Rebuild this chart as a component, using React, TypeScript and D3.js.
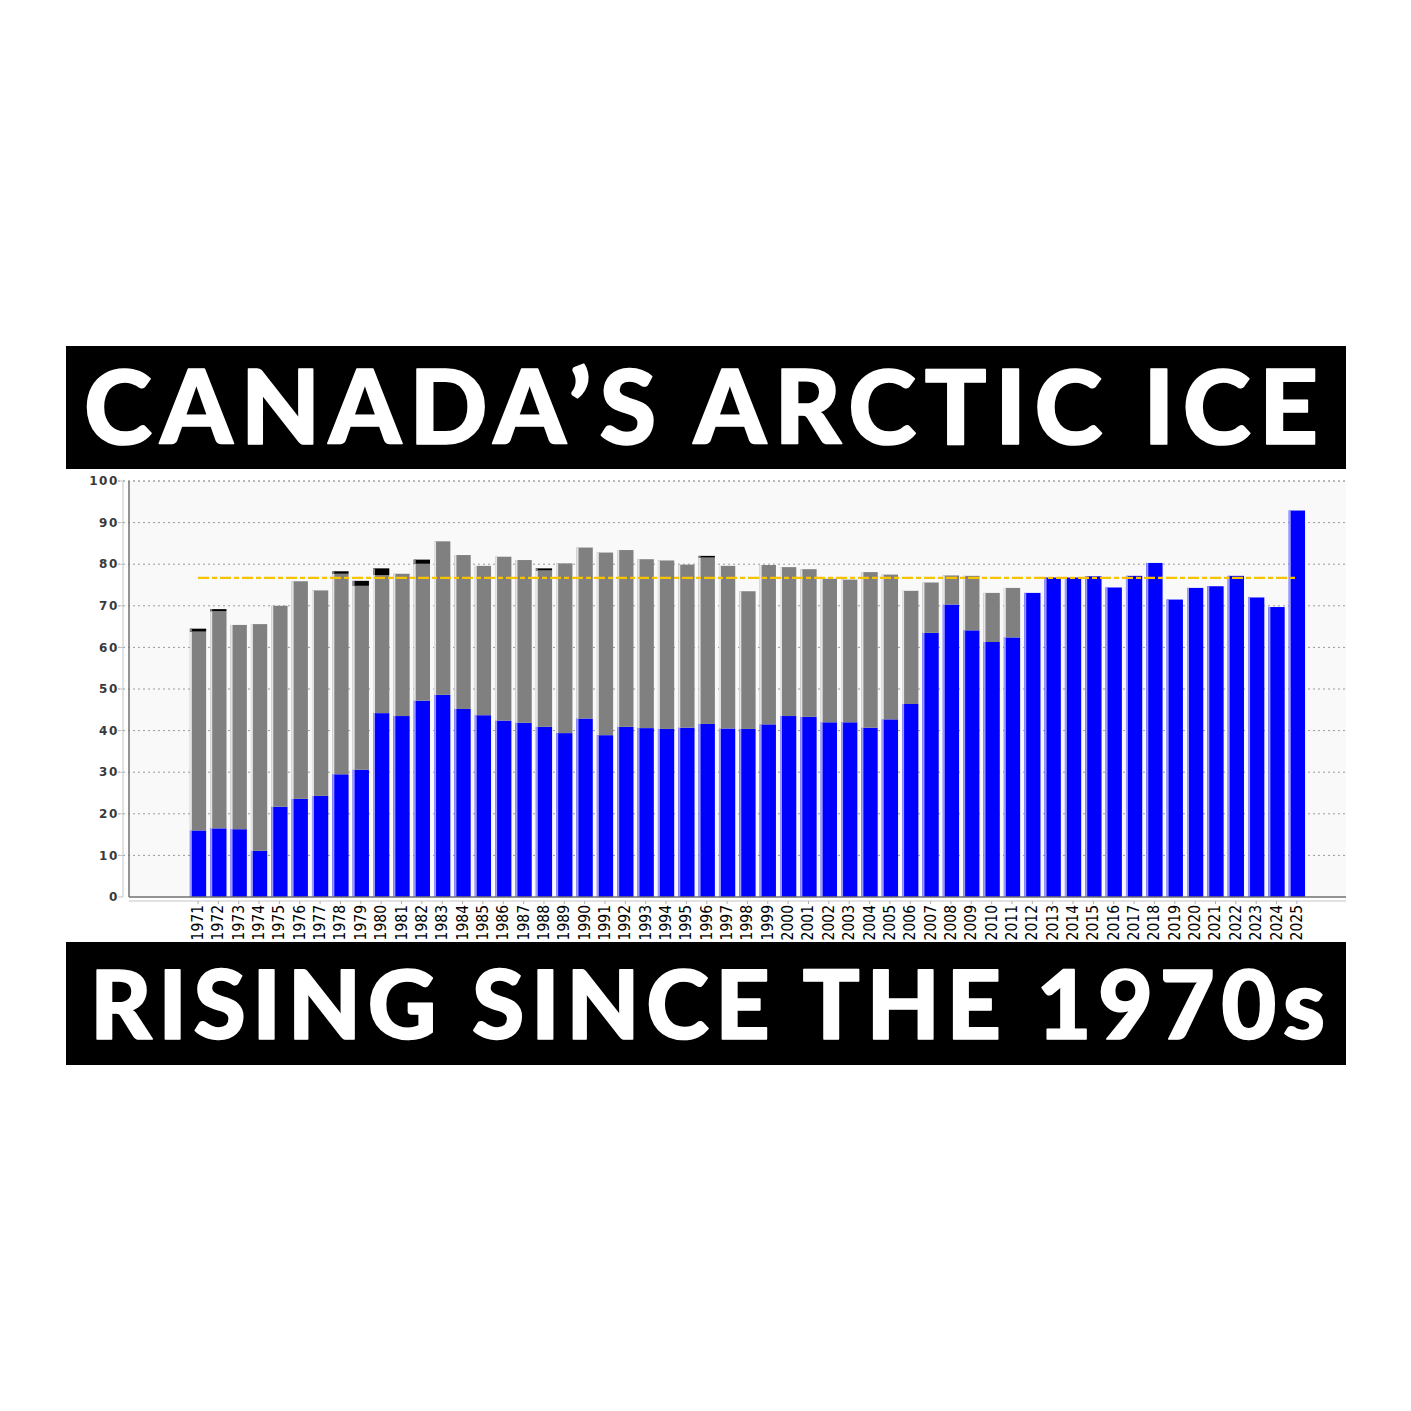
import React, { useEffect, useRef } from "react";
import * as d3 from "d3";

// years on the x axis
const years = d3.range(1971, 2026).map(String);

// blue segment (bottom of each bar)
const blueVals = [
  16.0, 16.5, 16.3, 11.1, 21.7, 23.6, 24.3, 29.5, 30.6, 44.2,
  43.5, 47.2, 48.6, 45.2, 43.7, 42.4, 41.9, 40.9, 39.4, 42.9,
  38.9, 40.9, 40.6, 40.4, 40.7, 41.6, 40.5, 40.4, 41.5, 43.5,
  43.3, 42.0, 42.0, 40.7, 42.7, 46.4, 63.5, 70.3, 64.1, 61.3,
  62.4, 73.1, 76.8, 76.8, 77.1, 74.4, 77.2, 80.3, 71.5, 74.3,
  74.7, 77.2, 72.0, 69.7, 92.9,
];

// gray segment stacked on the blue
const grayVals = [
  47.8, 52.2, 49.1, 54.5, 48.3, 52.3, 49.4, 48.2, 44.2, 33.2,
  34.2, 32.9, 36.9, 37.0, 35.9, 39.4, 39.1, 37.6, 40.8, 41.1,
  43.9, 42.5, 40.6, 40.5, 39.2, 40.0, 39.1, 33.1, 38.3, 35.8,
  35.5, 34.5, 34.3, 37.4, 34.8, 27.2, 12.1, 7.0, 13.1, 11.8,
  11.9, 0, 0, 0, 0, 0, 0, 0, 0, 0,
  0, 0, 0, 0, 0,
];

// thin black cap on top of some early bars
const blackVals = [
  0.7, 0.5, 0, 0, 0, 0, 0, 0.6, 1.2, 1.6,
  0, 1.0, 0, 0, 0, 0, 0, 0.5, 0, 0,
  0, 0, 0, 0, 0, 0.4, 0, 0, 0, 0,
  0, 0, 0, 0, 0, 0, 0, 0, 0, 0,
  0, 0, 0, 0, 0, 0, 0, 0, 0, 0,
  0, 0, 0, 0, 0,
];

const medianValue = 76.7;
const yTicks = [0, 10, 20, 30, 40, 50, 60, 70, 80, 90, 100];

const titleTop = "CANADA\u2019S ARCTIC ICE";
const titleBottom = "RISING SINCE THE 1970s";

const App = () => {
  const svgRef = useRef(null);

  useEffect(() => {
    const width = 1411,
      height = 1411;
    const plotLeft = 129,
      plotRight = 1346,
      plotTop = 481,
      plotBottom = 897;

    const svg = d3.select(svgRef.current);
    svg.selectAll("*").remove();

    svg.append("rect")
      .attr("width", width)
      .attr("height", height)
      .attr("fill", "#ffffff");

    // title banners //
    const banners = [
      { text: titleTop, y: 346, h: 123, base: 444, size: 103, x0: 84, len: 1234 },
      { text: titleBottom, y: 942, h: 123, base: 1039, size: 95, x0: 90, len: 1235 },
    ];
    banners.forEach(b => {
      svg.append("rect")
        .attr("x", 66)
        .attr("y", b.y)
        .attr("width", 1280)
        .attr("height", b.h)
        .attr("fill", "#000000");
      svg.append("text")
        .attr("x", b.x0)
        .attr("y", b.base)
        .attr("fill", "#ffffff")
        .attr("stroke", "#ffffff")
        .attr("stroke-width", 1.6)
        .attr("stroke-linejoin", "round")
        .attr("font-family", "Lato, 'Open Sans', sans-serif")
        .attr("font-weight", 900)
        .attr("font-size", b.size)
        .attr("textLength", b.len)
        .attr("lengthAdjust", "spacing")
        .text(b.text);
    });

    // scales //
    const x = d3.scaleBand()
      .domain(years)
      .range([185.8, 1309.1])
      .padding(0.2);

    const y = d3.scaleLinear()
      .domain([0, 100])
      .range([plotBottom, plotTop]);

    // plot background //
    svg.append("rect")
      .attr("x", plotLeft)
      .attr("y", plotTop)
      .attr("width", plotRight - plotLeft)
      .attr("height", plotBottom - plotTop)
      .attr("fill", "#f9f9f9");

    // dotted gridlines //
    svg.append("g")
      .selectAll("line")
      .data(yTicks.filter(t => t > 0))
      .join("line")
      .attr("x1", 118)
      .attr("x2", plotRight)
      .attr("y1", d => y(d))
      .attr("y2", d => y(d))
      .attr("stroke", d => (d === 100 ? "#777" : "#9a9a9a"))
      .attr("stroke-width", 1)
      .attr("stroke-dasharray", "2,3");

    // stacked bars //
    const table = years.map((yr, i) => ({
      year: yr,
      blue: blueVals[i],
      gray: grayVals[i],
      black: blackVals[i],
    }));
    const series = d3.stack().keys(["blue", "gray", "black"])(table);
    const fills = { blue: "#0000ff", gray: "#808080", black: "#000000" };
    const edges = { blue: "#9a9aff", gray: "#e4e4e4", black: "#888888" };

    series.forEach(s => {
      const g = svg.append("g");
      const segs = s.filter(d => d[1] - d[0] > 0);
      g.selectAll("rect.seg")
        .data(segs)
        .join("rect")
        .attr("class", "seg")
        .attr("x", d => x(d.data.year))
        .attr("y", d => y(d[1]))
        .attr("width", x.bandwidth())
        .attr("height", d => y(d[0]) - y(d[1]))
        .attr("fill", fills[s.key]);
      // light left edge highlight
      g.selectAll("rect.edge")
        .data(segs)
        .join("rect")
        .attr("class", "edge")
        .attr("x", d => x(d.data.year))
        .attr("y", d => y(d[1]))
        .attr("width", 2)
        .attr("height", d => y(d[0]) - y(d[1]))
        .attr("fill", edges[s.key]);
    });

    // median line (dash-dot yellow) //
    svg.append("line")
      .attr("x1", x(years[0]) + x.bandwidth() / 2)
      .attr("x2", x(years[years.length - 1]) + x.bandwidth() / 2)
      .attr("y1", y(medianValue))
      .attr("y2", y(medianValue))
      .attr("stroke", "#f7c200")
      .attr("stroke-width", 2.2)
      .attr("stroke-dasharray", "11,3,5,3");

    // y axis: light outer line + ticks, dark plot border //
    svg.append("line")
      .attr("x1", 123).attr("x2", 123)
      .attr("y1", plotTop).attr("y2", plotBottom)
      .attr("stroke", "#c4c4c4");
    svg.append("g")
      .selectAll("line")
      .data(yTicks)
      .join("line")
      .attr("x1", 118).attr("x2", 123)
      .attr("y1", d => y(d)).attr("y2", d => y(d))
      .attr("stroke", "#c4c4c4");
    svg.append("line")
      .attr("x1", plotLeft).attr("x2", plotLeft)
      .attr("y1", plotTop).attr("y2", plotBottom)
      .attr("stroke", "#707070")
      .attr("stroke-width", 1.5);

    svg.append("g")
      .selectAll("text")
      .data(yTicks)
      .join("text")
      .attr("x", 119)
      .attr("y", d => y(d))
      .attr("dy", "0.35em")
      .attr("text-anchor", "end")
      .attr("font-family", "'DejaVu Sans', sans-serif")
      .attr("font-weight", 700)
      .attr("font-size", 12)
      .attr("letter-spacing", 1.6)
      .attr("fill", "#3a3a3a")
      .text(d => d);

    // x axis: dark plot border + light line with ticks //
    svg.append("line")
      .attr("x1", plotLeft).attr("x2", plotRight)
      .attr("y1", plotBottom).attr("y2", plotBottom)
      .attr("stroke", "#707070")
      .attr("stroke-width", 1.5);
    svg.append("line")
      .attr("x1", plotLeft).attr("x2", plotRight)
      .attr("y1", 901).attr("y2", 901)
      .attr("stroke", "#c4c4c4");
    svg.append("g")
      .selectAll("line")
      .data(years)
      .join("line")
      .attr("x1", d => x(d) + x.bandwidth() / 2)
      .attr("x2", d => x(d) + x.bandwidth() / 2)
      .attr("y1", 901).attr("y2", 904)
      .attr("stroke", "#b0b0b0");

    svg.append("g")
      .selectAll("text")
      .data(years)
      .join("text")
      .attr("transform", d => `translate(${x(d) + x.bandwidth() / 2}, 905) rotate(-90)`)
      .attr("text-anchor", "end")
      .attr("dominant-baseline", "central")
      .attr("font-family", "'Liberation Sans Narrow', 'DejaVu Sans Condensed', sans-serif")
      .attr("font-size", 15.5)
      .attr("fill", "#000")
      .text(d => d);
  }, []);

  return (
    <svg
      ref={svgRef}
      width={1411}
      height={1411}
      style={{ position: "absolute", left: 0, top: 0, display: "block" }}
    ></svg>
  );
};

export default App;
